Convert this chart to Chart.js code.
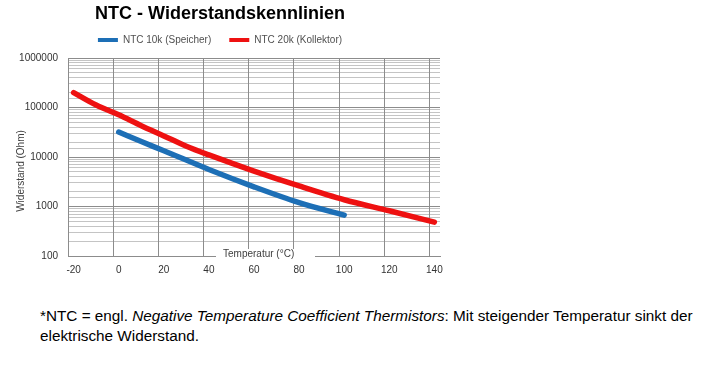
<!DOCTYPE html>
<html>
<head>
<meta charset="utf-8">
<script src="https://cdn.jsdelivr.net/npm/chart.js@4"></script>
<style>
  body { margin: 0; background: #fff; width: 708px; height: 367px; overflow: hidden; position: relative; }
  #wrap { position: absolute; left: 0; top: 0; width: 460px; height: 290px; }
  #note { position: absolute; left: 40px; top: 306px; font: 15.3px "Liberation Sans", Arial, sans-serif; line-height: 20px; color: #000; white-space: nowrap; }
</style>
</head>
<body>
<div id="wrap"><canvas id="myChart" width="460" height="290"></canvas></div>
<div id="note">*NTC = engl. <i>Negative Temperature Coefficient Thermistors</i>: Mit steigender Temperatur sinkt der<br>elektrische Widerstand.</div>
<script>
// temperature categories (°C)
var temps = [-20, -15, -10, -5, 0, 5, 10, 15, 20, 25, 30, 35, 40, 45, 50, 55, 60,
  65, 70, 75, 80, 85, 90, 95, 100, 105, 110, 115, 120, 125, 130, 135, 140];

// resistance in Ohm (null = no reading)
var ntc10k = [null, null, null, null, 32000, null, 20500, null, 13400, null, null, null, 5600,
  null, null, null, 2500, null, null, null, 1200, null, null, null, 670,
  null, null, null, null, null, null, null, null];
var ntc20k = [200000, null, 112000, null, 71000, null, 43000, null, 26700, null, 16500, null, 11000,
  null, null, null, 5200, null, null, null, 2600, null, null, null, 1370,
  null, null, null, 820, null, null, null, 484];

var yTicks = [100, 1000, 10000, 100000, 1000000];

var fontFam = "'Liberation Sans', Arial, sans-serif";
var gridDark = "#8c8c8c";

function isDecade(v) {
  return yTicks.indexOf(Math.round(v)) >= 0;
}

// a bit more room between legend and plot
var legendGap = {
  id: "legendGap",
  beforeLayout: function (chart) {
    var lg = chart.legend;
    if (lg && !lg._gapPatched) {
      var fit = lg.fit;
      lg.fit = function () {
        fit.call(this);
        this.height += 3;
      };
      lg._gapPatched = true;
    }
  },
};

// vertical grid lines sit on the category borders, one every 20 °C
var xGrid = {
  id: "xGrid",
  beforeDatasetsDraw: function (chart) {
    var x = chart.scales.x, a = chart.chartArea, ctx = chart.ctx;
    var half = (x.getPixelForValue(1) - x.getPixelForValue(0)) / 2;
    ctx.save();
    ctx.strokeStyle = gridDark;
    ctx.lineWidth = 1;
    temps.forEach(function (t, i) {
      if (t % 20 !== 0 || i === 0) return;
      var px = Math.round(x.getPixelForValue(i) - half) + 0.5;
      ctx.beginPath();
      ctx.moveTo(px, a.top);
      ctx.lineTo(px, a.bottom);
      ctx.stroke();
    });
    ctx.restore();
  },
};

// axis titles sit on the plot (x title covers the axis line)
var axisTitles = {
  id: "axisTitles",
  afterDraw: function (chart) {
    var ctx = chart.ctx;
    var bottom = chart.chartArea.bottom;
    ctx.save();
    ctx.fillStyle = "#fff";
    ctx.fillRect(216, bottom - 7, 99, 13);
    ctx.fillStyle = "#404040";
    ctx.font = "10px " + fontFam;
    ctx.textAlign = "left";
    ctx.textBaseline = "middle";
    ctx.fillText("Temperatur (°C)", 223, bottom - 2);
    ctx.translate(21, 171);
    ctx.rotate(-Math.PI / 2);
    ctx.textAlign = "center";
    ctx.fillText("Widerstand (Ohm)", 0, 0);
    ctx.restore();
  },
};

var ctx = document.getElementById("myChart").getContext("2d");
new Chart(ctx, {
  type: "line",
  data: {
    labels: temps,
    datasets: [
      {
        label: "NTC 10k (Speicher)",
        data: ntc10k,
        borderColor: "#1d6fb6",
        backgroundColor: "#1d6fb6",
      },
      {
        label: "NTC 20k (Kollektor)",
        data: ntc20k,
        borderColor: "#ee1111",
        backgroundColor: "#ee1111",
      },
    ],
  },
  options: {
    responsive: false,
    animation: false,
    spanGaps: true,
    layout: { padding: { left: 0, right: 20, top: 0, bottom: 0 } },
    elements: {
      line: { borderWidth: 5.5, tension: 0.4, cubicInterpolationMode: "monotone", borderCapStyle: "round" },
      point: { radius: 0 },
    },
    plugins: {
      title: {
        display: true,
        text: "NTC - Widerstandskennlinien",
        color: "#000",
        font: { family: fontFam, size: 18, weight: "bold" },
        padding: { top: 0, bottom: -8 },
      },
      legend: {
        labels: {
          color: "#505050",
          font: { family: fontFam, size: 10 },
          boxWidth: 20,
          boxHeight: 4,
          padding: 18,
          generateLabels: function (chart) {
            var items = Chart.defaults.plugins.legend.labels.generateLabels(chart);
            items.forEach(function (it) { it.lineWidth = 0; });
            return items;
          },
        },
      },
      tooltip: { enabled: false },
    },
    scales: {
      x: {
        type: "category",
        offset: true,
        grid: { display: false, drawTicks: false },
        border: { color: gridDark },
        ticks: {
          autoSkip: false,
          maxRotation: 0,
          padding: 8,
          color: "#333",
          font: { family: fontFam, size: 10 },
          callback: function (v, i) {
            return temps[i] % 20 === 0 ? String(temps[i]) : "";
          },
        },
        afterFit: function (s) { s.paddingLeft = 0; s.paddingRight = 0; },
      },
      y: {
        type: "logarithmic",
        min: 100,
        max: 1000000,
        grid: {
          drawTicks: false,
          color: function (c) {
            return c.tick && isDecade(c.tick.value) ? gridDark : "#c4c4c4";
          },
        },
        border: { color: gridDark },
        ticks: {
          autoSkip: false,
          padding: 10,
          color: "#333",
          font: { family: fontFam, size: 10 },
          callback: function (v) {
            return isDecade(v) ? String(Math.round(v)) : "";
          },
        },
        afterFit: function (s) {
          s.width = 68;
          s.paddingTop = 58;
          s.paddingBottom = 34;
        },
      },
    },
  },
  plugins: [legendGap, xGrid, axisTitles],
});
</script>
</body>
</html>
